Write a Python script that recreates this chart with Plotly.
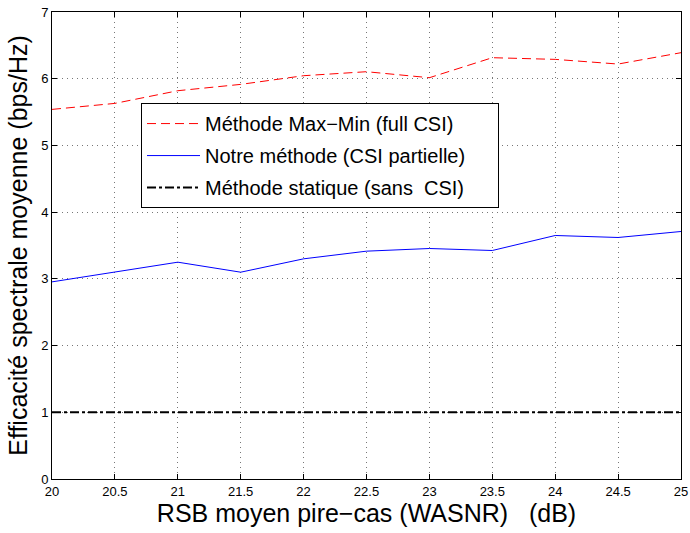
import plotly.graph_objects as go

snr = [20, 20.5, 21, 21.5, 22, 22.5, 23, 23.5, 24, 24.5, 25]
maxmin = [5.54, 5.63, 5.82, 5.915, 6.045, 6.105, 6.015, 6.315, 6.29, 6.22, 6.39]
notre = [2.955, 3.1, 3.25, 3.1, 3.3, 3.415, 3.455, 3.425, 3.65, 3.62, 3.71]
statique = [1, 1, 1, 1, 1, 1, 1, 1, 1, 1, 1]

xticks = [20, 20.5, 21, 21.5, 22, 22.5, 23, 23.5, 24, 24.5, 25]
yticks = [0, 1, 2, 3, 4, 5, 6, 7]

fig = go.Figure()
fig.add_trace(go.Scatter(x=snr, y=maxmin, mode="lines", name="Méthode Max\u2212Min (full CSI)",
                         legendgroup="a",
                         line=dict(color="#ff0000", width=1, dash="9px,5px")))
fig.add_trace(go.Scatter(x=snr, y=notre, mode="lines",
                         name="Notre méthode (CSI partielle)" + "\u00a0" * 5,
                         legendgroup="b",
                         line=dict(color="#0000ff", width=1)))
fig.add_trace(go.Scatter(x=snr, y=statique, mode="lines", name="Méthode statique (sans  CSI)",
                         legendgroup="c",
                         line=dict(color="#000000", width=2, dash="dashdot")))

axis_common = dict(showline=True, linecolor="black", linewidth=1, mirror="ticks",
                   ticks="inside", ticklen=5, tickcolor="black", automargin=False,
                   ticklabeloverflow="allow",
                   showgrid=True, gridcolor="#777777", griddash="1px,4px", gridwidth=1,
                   zeroline=False, tickfont=dict(family="Liberation Sans, Arial", size=13, color="black"))

fig.update_layout(
    width=690, height=533,
    margin=dict(l=52, r=9, t=12, b=54, autoexpand=False),
    paper_bgcolor="white", plot_bgcolor="white",
    font=dict(family="Liberation Sans, Arial", color="black"),
    xaxis=dict(range=[20, 25], tickvals=xticks, ticktext=[f"{v:g}" for v in xticks],
               title=dict(text="RSB moyen pire\u2212cas (WASNR)   (dB)", font=dict(size=25), standoff=0),
               **axis_common),
    yaxis=dict(range=[0, 7], tickvals=yticks,
               title=dict(text="Efficacité spectrale moyenne (bps/Hz)", font=dict(size=25), standoff=6),
               **axis_common),
    legend=dict(x=0.1415, y=0.805, xanchor="left", yanchor="top",
                bgcolor="white", bordercolor="black", borderwidth=1,
                font=dict(size=20, color="black"), tracegroupgap=3,
                itemwidth=53),
    showlegend=True,
)

fig.write_html("out.html",
               config={"displayModeBar": False},
               post_script="document.body.style.margin='0';document.body.style.overflow='hidden';")
